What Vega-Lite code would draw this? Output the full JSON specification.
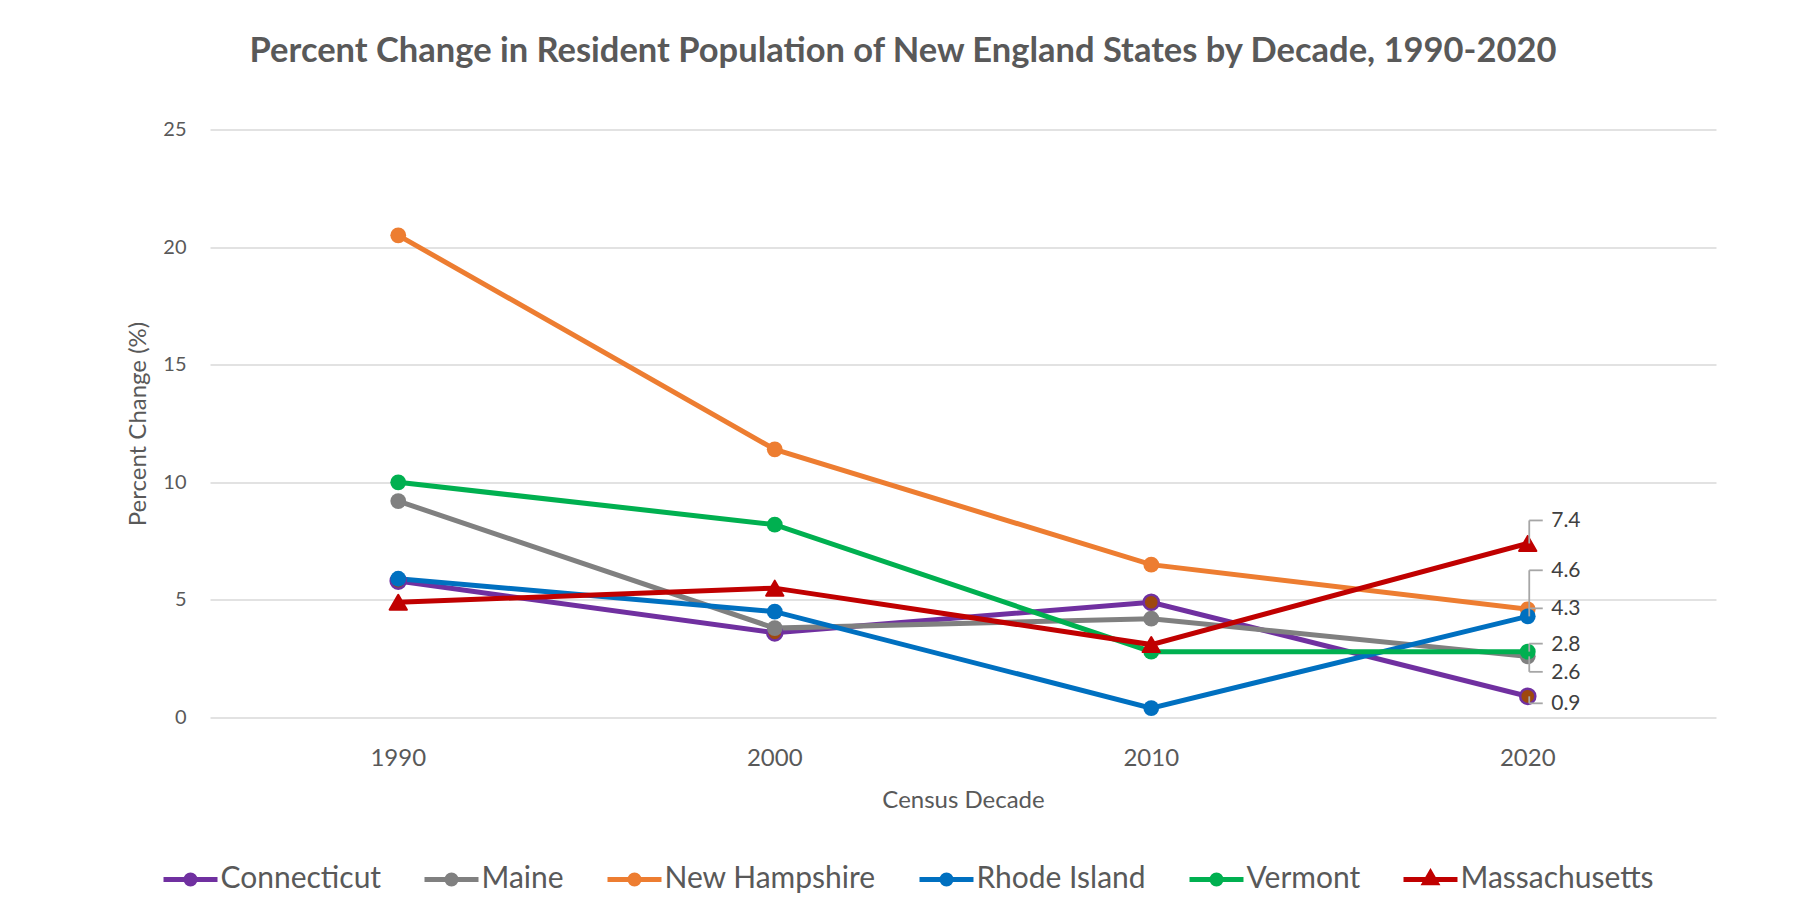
{
  "$schema": "https://vega.github.io/schema/vega-lite/v6.json",
  "width": 1506,
  "height": 588,
  "autosize": {"type": "none"},
  "padding": {"left": 210, "top": 129.5, "right": 81, "bottom": 199.6},
  "background": "white",
  "config": {
    "font": "Lato",
    "view": {"stroke": null},
    "axis": {"labelColor": "#595959", "titleColor": "#595959", "labelFont": "Lato", "titleFont": "Lato", "titleFontWeight": "normal"}
  },
  "title": {
    "text": "Percent Change in Resident Population of New England States by Decade, 1990-2020",
    "fontSize": 34.5,
    "fontWeight": "bold",
    "color": "#595959",
    "font": "Lato",
    "anchor": "middle",
    "dx": -60,
    "offset": 50
  },
  "data": {
    "values": [
      {"state": "Connecticut", "year": "1990", "value": 5.8},
      {"state": "Connecticut", "year": "2000", "value": 3.6},
      {"state": "Connecticut", "year": "2010", "value": 4.9},
      {"state": "Connecticut", "year": "2020", "value": 0.9},
      {"state": "Maine", "year": "1990", "value": 9.2},
      {"state": "Maine", "year": "2000", "value": 3.8},
      {"state": "Maine", "year": "2010", "value": 4.2},
      {"state": "Maine", "year": "2020", "value": 2.6},
      {"state": "New Hampshire", "year": "1990", "value": 20.5},
      {"state": "New Hampshire", "year": "2000", "value": 11.4},
      {"state": "New Hampshire", "year": "2010", "value": 6.5},
      {"state": "New Hampshire", "year": "2020", "value": 4.6},
      {"state": "Rhode Island", "year": "1990", "value": 5.9},
      {"state": "Rhode Island", "year": "2000", "value": 4.5},
      {"state": "Rhode Island", "year": "2010", "value": 0.4},
      {"state": "Rhode Island", "year": "2020", "value": 4.3},
      {"state": "Vermont", "year": "1990", "value": 10.0},
      {"state": "Vermont", "year": "2000", "value": 8.2},
      {"state": "Vermont", "year": "2010", "value": 2.8},
      {"state": "Vermont", "year": "2020", "value": 2.8},
      {"state": "Massachusetts", "year": "1990", "value": 4.9},
      {"state": "Massachusetts", "year": "2000", "value": 5.5},
      {"state": "Massachusetts", "year": "2010", "value": 3.1},
      {"state": "Massachusetts", "year": "2020", "value": 7.4}
    ]
  },
  "encoding": {
    "x": {
      "field": "year", "type": "ordinal",
      "axis": {"title": "Census Decade", "labelAngle": 0, "labelFontSize": 24, "titleFontSize": 24, "domain": false, "ticks": false, "tickSize": 0, "labelPadding": 29, "titlePadding": 18, "grid": false}
    },
    "y": {
      "field": "value", "type": "quantitative",
      "scale": {"domain": [0, 25], "nice": false},
      "axis": {"title": "Percent Change (%)", "values": [0, 5, 10, 15, 20, 25], "labelFontSize": 20, "titleFontSize": 24, "domain": false, "ticks": false, "tickSize": 0, "labelPadding": 24, "titlePadding": 12, "gridColor": "#d9d9d9", "gridWidth": 1.5}
    }
  },
  "layer": [
    {
      "mark": {"type": "line", "strokeWidth": 5},
      "encoding": {
        "color": {
          "field": "state", "type": "nominal",
          "scale": {
            "domain": ["Connecticut", "Maine", "New Hampshire", "Rhode Island", "Vermont", "Massachusetts"],
            "range": ["#7030A0", "#808080", "#ED7D31", "#0070C0", "#00B050", "#C00000"]
          },
          "legend": {
            "orient": "none", "direction": "horizontal", "legendX": -34.5, "legendY": 735, "title": null,
            "labelFontSize": 30, "labelLimit": 500, "labelColor": "#595959", "labelFont": "Lato",
            "symbolSize": 225, "symbolStrokeWidth": 5, "symbolOpacity": 1, "labelOffset": 15, "columnPadding": 33
          }
        }
      }
    },
    {
      "mark": {"type": "point", "filled": false, "strokeWidth": 5, "opacity": 0},
      "encoding": {
        "color": {
          "field": "state", "type": "nominal",
          "scale": {
            "domain": ["Connecticut", "Maine", "New Hampshire", "Rhode Island", "Vermont", "Massachusetts"],
            "range": ["#7030A0", "#808080", "#ED7D31", "#0070C0", "#00B050", "#C00000"]
          },
          "legend": {
            "orient": "none", "direction": "horizontal", "legendX": -34.5, "legendY": 735, "title": null,
            "labelFontSize": 30, "labelLimit": 500, "labelColor": "#595959", "labelFont": "Lato",
            "symbolSize": 225, "symbolStrokeWidth": 5, "symbolOpacity": 1, "labelOffset": 15, "columnPadding": 33
          }
        },
        "fill": {
          "field": "state", "type": "nominal",
          "scale": {
            "domain": ["Connecticut", "Maine", "New Hampshire", "Rhode Island", "Vermont", "Massachusetts"],
            "range": ["#9E480E", "#808080", "#ED7D31", "#0070C0", "#00B050", "#C00000"]
          },
          "legend": null
        },
        "shape": {
          "field": "state", "type": "nominal",
          "scale": {
            "domain": ["Connecticut", "Maine", "New Hampshire", "Rhode Island", "Vermont", "Massachusetts"],
            "range": [
              "M-3.6,0H3.6M-0.6,0A0.6,0.6 0 1,0 0.6,0A0.6,0.6 0 1,0 -0.6,0Z",
              "M-3.6,0H3.6M-0.6,0A0.6,0.6 0 1,0 0.6,0A0.6,0.6 0 1,0 -0.6,0Z",
              "M-3.6,0H3.6M-0.6,0A0.6,0.6 0 1,0 0.6,0A0.6,0.6 0 1,0 -0.6,0Z",
              "M-3.6,0H3.6M-0.6,0A0.6,0.6 0 1,0 0.6,0A0.6,0.6 0 1,0 -0.6,0Z",
              "M-3.6,0H3.6M-0.6,0A0.6,0.6 0 1,0 0.6,0A0.6,0.6 0 1,0 -0.6,0Z",
              "M-3.6,0H3.6M0,-0.85L0.75,0.45H-0.75Z"
            ]
          },
          "legend": null
        }
      }
    },
    {
      "transform": [{"filter": "datum.state === 'Connecticut'"}],
      "mark": {"type": "point", "shape": "circle", "filled": true, "size": 230, "opacity": 1, "fill": "#9E480E", "stroke": "#7030A0", "strokeWidth": 2.5}
    },
    {
      "transform": [{"filter": "datum.state === 'Maine'"}],
      "mark": {"type": "point", "shape": "circle", "filled": true, "size": 250, "opacity": 1, "color": "#808080"}
    },
    {
      "transform": [{"filter": "datum.state === 'New Hampshire'"}],
      "mark": {"type": "point", "shape": "circle", "filled": true, "size": 250, "opacity": 1, "color": "#ED7D31"}
    },
    {
      "transform": [{"filter": "datum.state === 'Rhode Island'"}],
      "mark": {"type": "point", "shape": "circle", "filled": true, "size": 250, "opacity": 1, "color": "#0070C0"}
    },
    {
      "transform": [{"filter": "datum.state === 'Vermont'"}],
      "mark": {"type": "point", "shape": "circle", "filled": true, "size": 250, "opacity": 1, "color": "#00B050"}
    },
    {
      "transform": [{"filter": "datum.state === 'Massachusetts'"}],
      "mark": {"type": "point", "shape": "triangle-up", "filled": true, "size": 300, "opacity": 1, "color": "#C00000", "stroke": "#C00000", "strokeWidth": 2, "strokeJoin": "round"}
    },
    {
      "transform": [{"filter": "datum.year === '2020'"}],
      "mark": {
        "type": "rule", "color": "#a6a6a6", "strokeWidth": 1.8, "xOffset": 1.5,
        "y2Offset": {"expr": "datum.state==='Massachusetts'?-23:datum.state==='New Hampshire'?-39:datum.state==='Rhode Island'?-8:datum.state==='Vermont'?-8:datum.state==='Maine'?15.5:7"}
      },
      "encoding": {
        "y2": {"field": "value"}
      }
    },
    {
      "transform": [{"filter": "datum.year === '2020'"}],
      "mark": {
        "type": "rule", "color": "#a6a6a6", "strokeWidth": 1.8, "xOffset": 1.5, "x2Offset": 15,
        "yOffset": {"expr": "datum.state==='Massachusetts'?-23:datum.state==='New Hampshire'?-39:datum.state==='Rhode Island'?-8:datum.state==='Vermont'?-8:datum.state==='Maine'?15.5:7"}
      },
      "encoding": {
        "x2": {"field": "year"}
      }
    },
    {
      "transform": [{"filter": "datum.year === '2020'"}],
      "mark": {
        "type": "text", "align": "left", "baseline": "middle", "dx": 23.5, "fontSize": 21, "font": "Lato", "color": "#404040",
        "dy": {"expr": "datum.state==='Massachusetts'?-22:datum.state==='New Hampshire'?-38:datum.state==='Rhode Island'?-7:datum.state==='Vermont'?-7:datum.state==='Maine'?16.5:8"}
      },
      "encoding": {
        "text": {"field": "value", "type": "quantitative", "format": ".1f"}
      }
    }
  ]
}
